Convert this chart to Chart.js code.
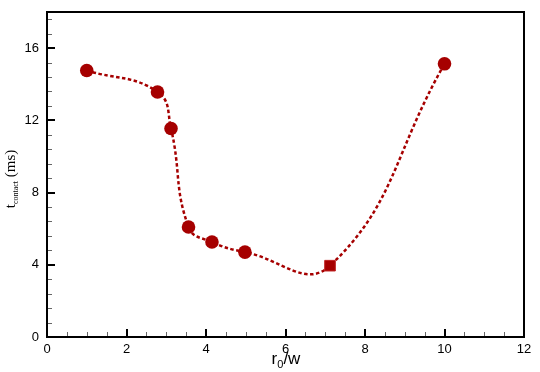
<!DOCTYPE html>
<html>
<head>
<meta charset="utf-8">
<script src="https://cdn.jsdelivr.net/npm/chart.js@4"></script>
<style>
  html, body { margin: 0; padding: 0; background: #fff; }
  #wrap { width: 540px; height: 372px; }
</style>
</head>
<body>
<div id="wrap"><canvas id="myChart"></canvas></div>
<script>
// measured points (circles) and the highlighted one (square)
const rCircle = [1.0, 2.78, 3.12, 3.56, 4.15, 4.98, 10.0];
const tCircle = [14.76, 13.57, 11.55, 6.09, 5.26, 4.70, 15.13];
const rSquare = [7.12];
const tSquare = [3.95];
// the dashed fit runs through all of them, in order
const rLine = [1.0, 2.78, 3.12, 3.56, 4.15, 4.98, 7.12, 10.0];
const tLine = [14.76, 13.57, 11.55, 6.09, 5.26, 4.70, 3.95, 15.13];

const xTicks = [0, 2, 4, 6, 8, 10, 12];
const yTicks = [0, 4, 8, 12, 16];

const red = '#a60000';

const toXY = (xs, ys) => xs.map((v, i) => ({x: v, y: ys[i]}));
const isMajor = (v, list) => list.some(m => Math.abs(m - v) < 1e-6);

const frame = {
  id: 'frame',
  afterDraw(chart) {
    const {ctx, chartArea: a, scales: {x, y}} = chart;
    ctx.save();
    x.ticks.forEach(t => {
      const px = Math.round(x.getPixelForValue(t.value));
      const major = isMajor(t.value, xTicks);
      ctx.strokeStyle = major ? '#000' : '#666';
      ctx.lineWidth = major ? 2 : 1;
      const len = major ? 8 : 5;
      ctx.beginPath();
      ctx.moveTo(px + (major ? 0 : 0.5), a.bottom);
      ctx.lineTo(px + (major ? 0 : 0.5), a.bottom - len);
      ctx.stroke();
    });
    y.ticks.forEach(t => {
      const py = Math.round(y.getPixelForValue(t.value));
      const major = isMajor(t.value, yTicks);
      ctx.strokeStyle = major ? '#000' : '#666';
      ctx.lineWidth = major ? 2 : 1;
      const len = major ? 8 : 5;
      ctx.beginPath();
      ctx.moveTo(a.left, py + (major ? 0 : 0.5));
      ctx.lineTo(a.left + len, py + (major ? 0 : 0.5));
      ctx.stroke();
    });
    ctx.strokeStyle = '#000';
    ctx.lineWidth = 2;
    ctx.strokeRect(a.left, a.top, a.right - a.left, a.bottom - a.top);

    // x title: r_0/w
    ctx.fillStyle = '#000';
    ctx.textBaseline = 'alphabetic';
    ctx.textAlign = 'left';
    const big = '17px "Liberation Sans", Arial, sans-serif';
    const sub = '11px "Liberation Sans", Arial, sans-serif';
    ctx.font = big; const wr = ctx.measureText('r').width;
    const ww = ctx.measureText('/w').width;
    ctx.font = sub; const w0 = ctx.measureText('0').width;
    let sx = 286 - (wr + w0 + ww) / 2;
    const by = 364;
    ctx.font = big; ctx.fillText('r', sx, by);
    ctx.font = sub; ctx.fillText('0', sx + wr, by + 4);
    ctx.font = big; ctx.fillText('/w', sx + wr + w0, by);

    // y title: t_contact (ms)
    const sBig = '15px "Liberation Serif", "Times New Roman", serif';
    const sSub = '8px "Liberation Serif", "Times New Roman", serif';
    ctx.translate(15, 179);
    ctx.rotate(-Math.PI / 2);
    ctx.font = sBig; const wt = ctx.measureText('t').width;
    const wm = ctx.measureText(' (ms)').width;
    ctx.font = sSub; const wc = ctx.measureText('contact').width;
    let tx = -(wt + wc + wm) / 2;
    ctx.font = sBig; ctx.fillText('t', tx, 0);
    ctx.font = sSub; ctx.fillText('contact', tx + wt, 3);
    ctx.font = sBig; ctx.fillText(' (ms)', tx + wt + wc, 0);
    ctx.restore();
  }
};

const ctx = document.getElementById('myChart');

new Chart(ctx, {
  type: 'scatter',
  data: {
    datasets: [
      {
        data: toXY(rLine, tLine),
        showLine: true,
        borderColor: red,
        borderWidth: 2.5,
        borderDash: [3.5, 2.5],
        tension: 0.45,
        pointRadius: 0,
        order: 3
      },
      {
        data: toXY(rCircle, tCircle),
        showLine: false,
        backgroundColor: red,
        borderColor: red,
        pointRadius: 6.8,
        borderWidth: 0,
        order: 1
      },
      {
        data: toXY(rSquare, tSquare),
        showLine: false,
        pointStyle: 'rect',
        backgroundColor: red,
        borderColor: '#c02020',
        borderWidth: 1,
        pointRadius: 7.5,
        order: 2
      }
    ]
  },
  options: {
    responsive: true,
    maintainAspectRatio: false,
    animation: false,
    layout: {
      padding: {top: 12, right: 16, left: 0, bottom: 0}
    },
    plugins: {
      legend: { display: false },
      tooltip: { enabled: false }
    },
    scales: {
      x: {
        type: 'linear',
        min: 0,
        max: 12,
        afterFit: (s) => { s.height = 35; },
        border: { display: false },
        grid: { display: false, drawTicks: false },
        ticks: {
          stepSize: 0.5,
          autoSkip: false,
          maxRotation: 0,
          padding: 5,
          color: '#000',
          font: { family: '"Liberation Sans", Arial, sans-serif', size: 13 },
          callback: (v) => isMajor(v, xTicks) ? String(v) : ''
        }
      },
      y: {
        type: 'linear',
        min: 0,
        max: 18,
        afterFit: (s) => { s.width = 47; s.paddingTop = 0; s.paddingBottom = 0; },
        border: { display: false },
        grid: { display: false, drawTicks: false },
        ticks: {
          stepSize: 0.8,
          includeBounds: false,
          autoSkip: false,
          padding: 8,
          color: '#000',
          font: { family: '"Liberation Sans", Arial, sans-serif', size: 13 },
          callback: (v) => isMajor(v, yTicks) ? String(Math.round(v)) : ''
        }
      }
    }
  },
  plugins: [frame]
});
</script>
</body>
</html>
